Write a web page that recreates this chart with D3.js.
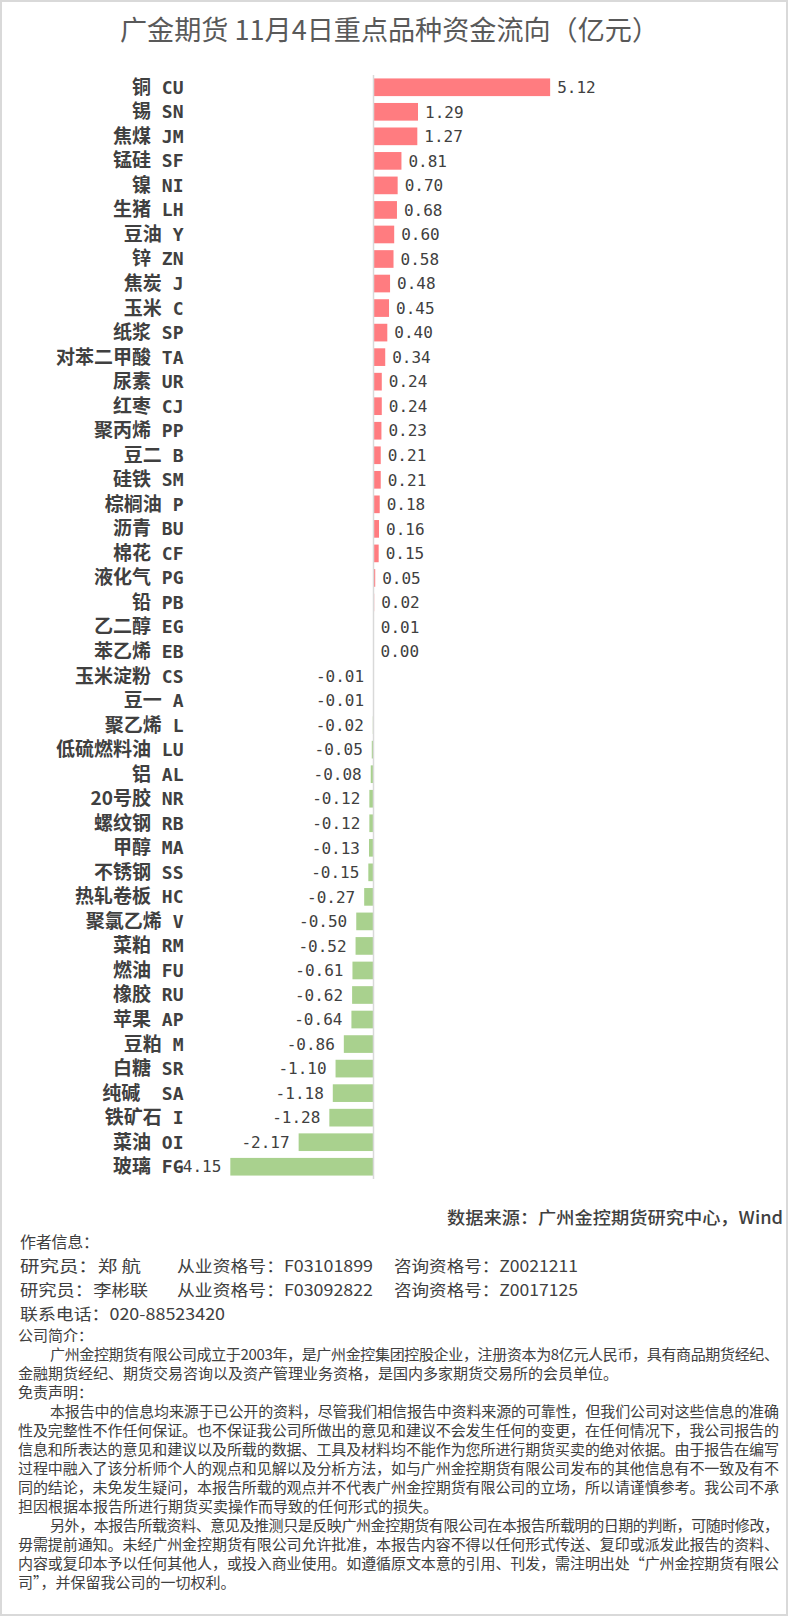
<!DOCTYPE html>
<html>
<head>
<meta charset="utf-8">
<script src="https://cdn.jsdelivr.net/npm/d3@7"></script>
<style>
  body { margin: 0; background: #fff; }
  text { font-family: "Noto Sans CJK SC", "Noto Sans", sans-serif; }
</style>
</head>
<body>
<script>
const labels = [
  '铜 CU', '锡 SN', '焦煤 JM', '锰硅 SF', '镍 NI', '生猪 LH', '豆油 Y', '锌 ZN',
  '焦炭 J', '玉米 C', '纸浆 SP', '对苯二甲酸 TA', '尿素 UR', '红枣 CJ', '聚丙烯 PP',
  '豆二 B', '硅铁 SM', '棕榈油 P', '沥青 BU', '棉花 CF', '液化气 PG', '铅 PB',
  '乙二醇 EG', '苯乙烯 EB', '玉米淀粉 CS', '豆一 A', '聚乙烯 L', '低硫燃料油 LU',
  '铝 AL', '20号胶 NR', '螺纹钢 RB', '甲醇 MA', '不锈钢 SS', '热轧卷板 HC',
  '聚氯乙烯 V', '菜粕 RM', '燃油 FU', '橡胶 RU', '苹果 AP', '豆粕 M', '白糖 SR',
  '纯碱  SA', '铁矿石 I', '菜油 OI', '玻璃 FG'
]
const values = [
  5.12, 1.29, 1.27, 0.81, 0.70, 0.68, 0.60, 0.58,
  0.48, 0.45, 0.40, 0.34, 0.24, 0.24, 0.23,
  0.21, 0.21, 0.18, 0.16, 0.15, 0.05, 0.02,
  0.01, 0.00, -0.01, -0.01, -0.02, -0.05,
  -0.08, -0.12, -0.12, -0.13, -0.15, -0.27,
  -0.50, -0.52, -0.61, -0.62, -0.64, -0.86, -1.10,
  -1.18, -1.28, -2.17, -4.15
]
const title = '广金期货 11月4日重点品种资金流向（亿元）'
const source = '数据来源：广州金控期货研究中心，Wind'
const authors = [
  ['研究员：郑 航', '从业资格号：F03101899', '咨询资格号：Z0021211'],
  ['研究员：李彬联', '从业资格号：F03092822', '咨询资格号：Z0017125']
]
const phone = '联系电话：020-88523420'
// [text, indented, justified]
const notes = [
  ['公司简介：', false, false],
  ['广州金控期货有限公司成立于2003年，是广州金控集团控股企业，注册资本为8亿元人民币，具有商品期货经纪、', true, true],
  ['金融期货经纪、期货交易咨询以及资产管理业务资格，是国内多家期货交易所的会员单位。', false, false],
  ['免责声明：', false, false],
  ['本报告中的信息均来源于已公开的资料，尽管我们相信报告中资料来源的可靠性，但我们公司对这些信息的准确', true, true],
  ['性及完整性不作任何保证。也不保证我公司所做出的意见和建议不会发生任何的变更，在任何情况下，我公司报告的', false, true],
  ['信息和所表达的意见和建议以及所载的数据、工具及材料均不能作为您所进行期货买卖的绝对依据。由于报告在编写', false, true],
  ['过程中融入了该分析师个人的观点和见解以及分析方法，如与广州金控期货有限公司发布的其他信息有不一致及有不', false, true],
  ['同的结论，未免发生疑问，本报告所载的观点并不代表广州金控期货有限公司的立场，所以请谨慎参考。我公司不承', false, true],
  ['担因根据本报告所进行期货买卖操作而导致的任何形式的损失。', false, false],
  ['另外，本报告所载资料、意见及推测只是反映广州金控期货有限公司在本报告所载明的日期的判断，可随时修改，', true, true],
  ['毋需提前通知。未经广州金控期货有限公司允许批准，本报告内容不得以任何形式传送、复印或派发此报告的资料、', false, true],
  ['内容或复印本予以任何其他人，或投入商业使用。如遵循原文本意的引用、刊发，需注明出处“广州金控期货有限公', false, true],
  ['司”，并保留我公司的一切权利。', false, false]
]

let size = { width: 788, height: 1616 }
let textColor = '#404040'
let mono = '"DejaVu Sans Mono", "Liberation Mono", monospace'

let svg = d3.select('body')
  .append('svg')
  .attr('width', size.width)
  .attr('height', size.height)

svg.append('rect')
  .attr('x', 1)
  .attr('y', 1)
  .attr('width', size.width - 2)
  .attr('height', size.height - 2)
  .attr('fill', '#fff')
  .attr('stroke', '#d9d9d9')
  .attr('stroke-width', 2)

svg.append('text')
  .attr('x', 120)
  .attr('y', 40)
  .attr('textLength', 539)
  .attr('lengthAdjust', 'spacingAndGlyphs')
  .style('font-size', '27px')
  .attr('fill', '#595959')
  .text(title)

let xScale = d3.scaleLinear()
  .domain([-5, 6])
  .range([201, 580.5])

let yScale = d3.scaleBand()
  .domain(labels)
  .range([75, 1179])
  .paddingInner(0.28)
  .paddingOuter(0.14)

let rows = labels.map((l, i) => ({ label: l, value: values[i] }))

svg.selectAll('rect.bar')
  .data(rows)
  .enter()
  .append('rect')
  .attr('class', 'bar')
  .attr('x', d => xScale(Math.min(0, d.value)))
  .attr('y', d => yScale(d.label))
  .attr('width', d => Math.abs(xScale(d.value) - xScale(0)))
  .attr('height', yScale.bandwidth())
  .attr('fill', d => d.value >= 0 ? '#ff7c80' : '#a9d18e')

let yAxis = d3.axisLeft(yScale).tickSize(0).tickPadding(0)
let axisG = svg.append('g')
  .attr('transform', 'translate(183.5, 0)')
  .call(yAxis)
axisG.select('.domain').remove()
axisG.selectAll('text')
  .style('font-size', '18px')
  .style('font-weight', 'bold')
  .attr('dy', '0.36em')
  .attr('fill', textColor)
  .each(function(d) {
    let t = d3.select(this)
    let cut = d.indexOf(' ')
    t.text(null)
    t.append('tspan')
      .style('font-family', '"Noto Sans CJK SC", sans-serif')
      .style('font-size', '19px')
      .text(d.slice(0, cut))
    t.append('tspan')
      .style('font-family', mono)
      .style('font-size', '18px')
      .style('white-space', 'pre')
      .text(d.slice(cut))
  })

svg.append('line')
  .attr('x1', xScale(0))
  .attr('x2', xScale(0))
  .attr('y1', 75)
  .attr('y2', 1179)
  .attr('stroke', '#d9d9d9')
  .attr('stroke-width', 1.5)

svg.selectAll('text.val')
  .data(rows)
  .enter()
  .append('text')
  .attr('class', 'val')
  .attr('x', d => d.value >= 0 ? xScale(d.value) + 7 : xScale(d.value) - 9)
  .attr('y', d => yScale(d.label) + yScale.bandwidth() / 2)
  .attr('dy', '0.36em')
  .attr('text-anchor', d => d.value >= 0 ? 'start' : 'end')
  .style('font-family', mono)
  .style('font-size', '16px')
  .attr('fill', textColor)
  .text(d => d3.format('.2f')(d.value).replace('−', '-'))

svg.append('text')
  .attr('x', 447)
  .attr('y', 1224)
  .attr('textLength', 336)
  .attr('lengthAdjust', 'spacingAndGlyphs')
  .style('font-size', '17px')
  .style('font-weight', '500')
  .attr('fill', textColor)
  .text(source)

svg.append('text')
  .attr('x', 20)
  .attr('y', 1248)
  .attr('textLength', 79)
  .style('font-size', '16px')
  .attr('fill', textColor)
  .text('作者信息：')

let colX = [20, 177, 394]
let colW = [[121, 196, 184], [128, 196, 184]]
authors.forEach((a, i) => {
  a.forEach((t, j) => {
    svg.append('text')
      .attr('x', colX[j])
      .attr('y', 1272 + i * 24)
      .attr('textLength', colW[i][j])
      .attr('lengthAdjust', 'spacingAndGlyphs')
      .style('font-size', '16px')
      .attr('fill', textColor)
      .text(t)
  })
})

svg.append('text')
  .attr('x', 20)
  .attr('y', 1320)
  .attr('textLength', 205)
  .attr('lengthAdjust', 'spacingAndGlyphs')
  .style('font-size', '16px')
  .attr('fill', textColor)
  .text(phone)

notes.forEach((n, i) => {
  let x = n[1] ? 50 : 18
  let t = svg.append('text')
    .attr('x', x)
    .attr('y', 1341 + i * 19)
    .style('font-size', '15px')
    .attr('fill', textColor)
    .text(n[0])
  if (n[2]) {
    t.attr('textLength', 779 - x).attr('lengthAdjust', 'spacing')
  }
})
</script>
</body>
</html>
